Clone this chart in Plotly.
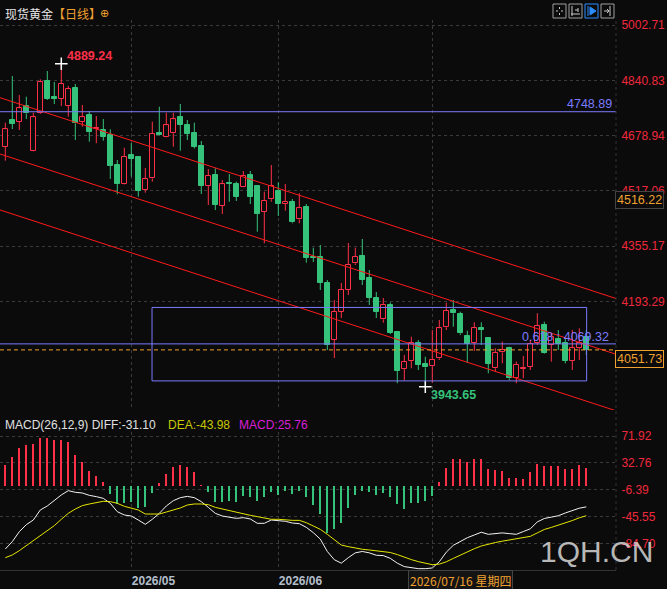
import plotly.graph_objects as go

BG = "#0b0b0b"
UP = "#ff3048"
DOWN = "#35c27a"
GRID = "#3a3a3a"
BLUE = "#7b7bff"
ORANGE = "#f0a030"
TICKRED = "#f0283c"

# ---------------- data ----------------
idx = list(range(84))
opens = [4646.5, 4724.7, 4719.7, 4765.6, 4634.8, 4744.3, 4838.8, 4792.9, 4787.0, 4766.5,
         4818.3, 4719.7, 4739.3, 4697.4, 4695.4, 4680.8, 4592.9, 4538.2, 4622.2, 4616.4,
         4518.9, 4554.0, 4686.6, 4675.8, 4685.7, 4732.6, 4710.0, 4686.6, 4648.6, 4532.4,
         4563.7, 4473.8, 4539.4, 4537.3, 4529.4, 4563.7, 4531.5, 4456.3, 4492.6, 4516.8,
         4479.7, 4485.5, 4434.0, 4470.9, 4324.5, 4324.5, 4247.6, 4080.7, 4162.7, 4227.1,
         4305.2, 4327.5, 4262.2, 4203.7, 4141.3, 4183.2, 4104.1, 3996.7, 4020.1, 4071.1,
         4010.5, 4005.5, 4027.2, 4117.9, 4168.5, 4156.8, 4092.4, 4071.1, 4115.8, 4085.7,
         3997.9, 4044.7, 4056.4, 3968.6, 3996.7, 4002.6, 4072.8, 4124.6, 4066.1, 4083.6,
         4071.1, 4020.1, 4056.4, 4090.4]
highs = [4716.8, 4853.4, 4797.8, 4792.9, 4746.0, 4843.8, 4868.1, 4835.9, 4889.24, 4824.2,
         4830.0, 4768.6, 4751.0, 4736.4, 4727.6, 4697.4, 4607.6, 4643.6, 4657.3, 4618.0,
         4584.2, 4719.7, 4763.6, 4746.0, 4746.0, 4771.5, 4724.7, 4716.8, 4663.2, 4581.2,
         4583.3, 4549.0, 4566.6, 4544.1, 4575.4, 4575.4, 4534.4, 4514.8, 4592.9, 4542.3,
         4537.3, 4493.4, 4510.1, 4478.8, 4350.9, 4358.8, 4256.3, 4197.8, 4247.6, 4364.6,
         4350.9, 4376.3, 4285.6, 4221.2, 4203.7, 4191.1, 4106.0, 4036.8, 4090.4, 4080.7,
         4031.8, 4110.0, 4139.3, 4189.9, 4197.8, 4163.6, 4107.9, 4132.5, 4132.5, 4087.0,
         4056.4, 4075.7, 4061.1, 4017.2, 4033.9, 4080.7, 4158.9, 4134.3, 4101.2, 4110.0,
         4085.7, 4110.0, 4115.0, 4110.0]
lows = [4605.5, 4698.3, 4695.4, 4727.6, 4633.0, 4742.0, 4783.2, 4771.5, 4765.6, 4734.3,
        4666.1, 4705.1, 4661.1, 4656.5, 4664.1, 4552.0, 4507.2, 4536.0, 4558.7, 4500.2,
        4511.9, 4544.1, 4679.0, 4674.0, 4646.5, 4634.8, 4666.1, 4641.2, 4508.1, 4475.9,
        4461.2, 4449.5, 4485.5, 4487.6, 4528.0, 4478.8, 4397.7, 4363.8, 4485.5, 4443.7,
        4459.2, 4422.3, 4422.3, 4307.0, 4309.0, 4227.1, 4051.4, 4028.0, 4145.1, 4212.4,
        4300.2, 4241.7, 4183.2, 4145.1, 4131.4, 4098.3, 3954.0, 3961.6, 3997.9, 3992.9,
        3943.65, 3955.7, 4022.2, 4110.0, 4119.6, 4095.4, 4014.3, 4048.5, 4066.1, 3983.3,
        3987.9, 4012.5, 3963.6, 3954.0, 3968.6, 3992.9, 4066.1, 4040.0, 4017.2, 4051.4,
        4012.5, 3992.9, 4022.2, 4036.8]
closes = [4697.4, 4713.0, 4758.9, 4744.3, 4732.6, 4835.0, 4786.1, 4786.1, 4830.0, 4814.5,
          4715.0, 4732.6, 4690.4, 4702.1, 4675.8, 4590.9, 4537.3, 4616.4, 4611.4, 4517.7,
          4551.1, 4683.7, 4680.8, 4709.1, 4726.7, 4710.0, 4683.7, 4646.5, 4532.4, 4560.7,
          4475.9, 4536.5, 4537.3, 4500.2, 4561.6, 4500.2, 4449.5, 4487.6, 4532.4, 4478.8,
          4484.6, 4425.2, 4466.2, 4321.6, 4321.6, 4247.6, 4066.1, 4162.7, 4227.1, 4300.2,
          4324.5, 4256.3, 4203.7, 4162.7, 4183.2, 4102.1, 3990.9, 4015.5, 4071.1, 4007.5,
          4000.8, 4022.2, 4115.0, 4165.6, 4158.9, 4100.3, 4069.0, 4115.0, 4110.0, 4010.5,
          4043.5, 4051.4, 3968.6, 4007.5, 3999.6, 4069.0, 4121.7, 4041.8, 4089.5, 4069.0,
          4020.1, 4056.4, 4072.8, 4051.73]

macd_hist = [29.8, 41.0, 54.1, 58.9, 60.4, 69.1, 69.1, 66.2, 66.2, 62.8,
             44.4, 33.7, 20.6, 13.8, 4.6, -12.4, -26.9, -25.0, -23.5, -32.3,
             -31.8, -10.4, 4.1, 17.2, 26.9, 30.3, 26.9, 19.6, 0.7, -9.0,
             -23.5, -23.5, -22.1, -23.5, -15.3, -16.2, -22.1, -17.2, -9.5, -13.8,
             -7.5, -12.4, -7.5, -16.2, -28.4, -41.5, -68.6, -63.0, -54.1, -32.3,
             -13.8, -8.0, -9.5, -13.8, -10.4, -16.2, -26.9, -34.2, -25.9, -25.0,
             -22.6, -15.3, 4.6, 25.5, 38.6, 38.6, 33.7, 38.6, 38.6, 23.5,
             22.6, 21.1, 10.4, 10.4, 9.0, 19.6, 31.3, 28.4, 28.4, 28.4,
             24.0, 24.0, 29.8, 25.76]
diff = [-92.4, -81.7, -67.2, -57.0, -50.2, -35.6, -29.8, -22.1, -13.8, -7.5,
        -9.9, -10.9, -14.3, -16.2, -18.7, -25.9, -38.1, -42.9, -44.4, -50.2,
        -56.5, -49.2, -40.5, -29.8, -22.1, -17.7, -15.8, -17.7, -23.5, -31.8,
        -40.5, -44.4, -46.3, -47.8, -46.8, -48.7, -55.0, -55.0, -50.2, -50.7,
        -52.1, -54.6, -55.5, -60.9, -68.6, -78.0, -96.0, -108.0, -113.0, -105.0,
        -98.0, -96.0, -98.0, -101.5, -102.0, -106.0, -113.0, -118.0, -120.0, -121.0,
        -121.0, -120.0, -111.0, -97.0, -87.0, -81.0, -76.0, -72.0, -68.0, -71.0,
        -70.0, -69.0, -70.0, -71.0, -67.0, -63.0, -53.0, -48.0, -46.0, -44.0,
        -40.0, -36.0, -33.0, -31.10]
dea = [-105.0, -101.1, -94.8, -87.5, -80.8, -72.5, -65.7, -58.4, -49.2, -40.5,
       -34.2, -29.3, -26.9, -24.5, -23.0, -23.5, -25.9, -30.3, -32.7, -35.6,
       -41.5, -41.5, -41.5, -38.6, -35.6, -32.7, -28.4, -26.9, -26.9, -27.9,
       -31.8, -34.2, -37.1, -39.0, -41.5, -43.4, -45.3, -47.3, -49.2, -49.2,
       -50.2, -50.7, -50.7, -54.1, -58.9, -63.8, -71.0, -79.0, -86.6, -89.0,
       -91.4, -92.8, -93.8, -94.8, -96.0, -97.5, -100.5, -104.6, -107.8, -110.8,
       -113.5, -115.2, -114.4, -111.0, -106.1, -101.0, -96.0, -92.0, -88.0, -85.0,
       -83.0, -81.0, -79.5, -78.0, -76.5, -74.0, -69.0, -64.0, -61.0, -58.0,
       -55.0, -51.0, -47.0, -43.98]

price_ticks = [5002.71, 4840.83, 4678.94, 4517.06, 4355.17, 4193.29]
macd_ticks = [71.92, 32.76, -6.39, -45.55, -84.70]
month_idx = [18, 39, 61]
month_labels = ["2026/05", "2026/06", ""]

resist_level = 4748.89
fib_level = 4069.32
fib_label = "0.618 : 4069.32"
last_price = closes[-1]
cross_price = 4516.22
cross_date = "2026/07/16 星期四"
cross_idx = 72
high_idx, high_val = 8, 4889.24
low_idx, low_val = 60, 3943.65
box_x = [20.96, 83.05]
box_y = [3961.0, 4176.0]
# parallel channel: price at index -1 and index 88
channel = [(4791.6, 4197.1), (4626.8, 4034.0), (4463.0, 3868.5)]

# ---------------- figure ----------------
W, H = 667, 589
ML, MR, MT, MB = 0, 51, 20, 19
PW, PH = W - ML - MR, H - MT - MB


def px(x):
    return (x - ML) / PW


def py(y):
    return (H - MB - y) / PH


fig = go.Figure()

up = [i for i in idx if closes[i] >= opens[i]]
dn = [i for i in idx if closes[i] < opens[i]]


def wicks(ids):
    xs, ys = [], []
    for i in ids:
        top = max(opens[i], closes[i])
        bot = min(opens[i], closes[i])
        xs += [i, i, None, i, i, None]
        ys += [highs[i], top, None, bot, lows[i], None]
    return xs, ys


for ids, col in ((up, UP), (dn, DOWN)):
    wx, wy = wicks(ids)
    fig.add_trace(go.Scatter(x=wx, y=wy, mode="lines", line=dict(color=col, width=1),
                             hoverinfo="skip", xaxis="x", yaxis="y"))

fig.add_trace(go.Bar(x=up, y=[max(closes[i] - opens[i], 0.5) for i in up],
                     base=[opens[i] for i in up], width=0.68,
                     marker=dict(color=BG, line=dict(color=UP, width=1)),
                     hoverinfo="skip", xaxis="x", yaxis="y"))
fig.add_trace(go.Bar(x=dn, y=[max(opens[i] - closes[i], 0.5) for i in dn],
                     base=[closes[i] for i in dn], width=0.68,
                     marker=dict(color=DOWN, line=dict(color=DOWN, width=1)),
                     hoverinfo="skip", xaxis="x", yaxis="y"))

# high / low markers
fig.add_trace(go.Scatter(x=[high_idx, low_idx], y=[high_val, low_val], mode="markers",
                         marker=dict(symbol="cross-thin", size=9,
                                     line=dict(color="white", width=1.5)),
                         hoverinfo="skip", xaxis="x", yaxis="y"))

# MACD
pos = [i for i in idx if macd_hist[i] >= 0]
neg = [i for i in idx if macd_hist[i] < 0]
fig.add_trace(go.Bar(x=pos, y=[macd_hist[i] for i in pos], width=0.17,
                     marker=dict(color=UP, line=dict(width=0)), hoverinfo="skip",
                     xaxis="x2", yaxis="y2"))
fig.add_trace(go.Bar(x=neg, y=[macd_hist[i] for i in neg], width=0.17,
                     marker=dict(color=DOWN, line=dict(width=0)), hoverinfo="skip",
                     xaxis="x2", yaxis="y2"))
fig.add_trace(go.Scatter(x=idx, y=diff, mode="lines", line=dict(color="#f2f2f2", width=1),
                         hoverinfo="skip", xaxis="x2", yaxis="y2"))
fig.add_trace(go.Scatter(x=idx, y=dea, mode="lines", line=dict(color="#e6e600", width=1),
                         hoverinfo="skip", xaxis="x2", yaxis="y2"))

xr = [-0.757, -0.757 + PW / 7.0]
price_top = 5002.71 + (25 - 20) * 2.927
price_bot = price_top - 390 * 2.927
macd_scale = 1.455
macd_top = (485.5 - 432) * macd_scale
macd_bot = (485.5 - 570) * macd_scale

common_x = dict(range=xr, showgrid=True, gridcolor=GRID, griddash="dot", gridwidth=1,
                zeroline=False, tickvals=month_idx, fixedrange=True)
fig.update_layout(
    width=W, height=H, margin=dict(l=ML, r=MR, t=MT, b=MB),
    paper_bgcolor=BG, plot_bgcolor=BG, showlegend=False, barmode="overlay",
    bargap=0,
    xaxis=dict(domain=[0, 1], anchor="y", showticklabels=False, showline=False, **common_x),
    xaxis2=dict(domain=[0, 1], anchor="y2", ticktext=month_labels,
                ticklabelposition="outside right", ticks="",
                tickfont=dict(family="Arial", size=12, color="#b4bfcc", weight="bold"),
                showline=True, linecolor="#333333", linewidth=1, **common_x),
    yaxis=dict(domain=[py(410), 1], range=[price_bot, price_top], side="right",
               tickvals=price_ticks, ticktext=[f"{v:.2f}" for v in price_ticks],
               tickfont=dict(family="Arial", size=12, color=TICKRED),
               ticks="outside", ticklen=2, tickcolor=BG,
               showgrid=True, gridcolor=GRID, griddash="dot", zeroline=False,
               showline=False, fixedrange=True),
    yaxis2=dict(domain=[0, py(432)], range=[macd_bot, macd_top], side="right",
                tickvals=macd_ticks, ticktext=[f"{v:.2f}" for v in macd_ticks],
                tickfont=dict(family="Arial", size=12, color=TICKRED),
                ticks="outside", ticklen=2, tickcolor=BG,
                showgrid=True, gridcolor=GRID, griddash="dot", zeroline=False,
                showline=False, fixedrange=True),
)

shapes = []
# channel lines
for a, b in channel:
    shapes.append(dict(type="line", xref="x", yref="y", x0=-1, x1=88, y0=a, y1=b,
                       line=dict(color="#ff1a1a", width=1)))
# horizontal levels
shapes.append(dict(type="line", xref="paper", yref="y", x0=0, x1=1, y0=resist_level,
                   y1=resist_level, line=dict(color=BLUE, width=1)))
shapes.append(dict(type="line", xref="paper", yref="y", x0=0, x1=1, y0=fib_level,
                   y1=fib_level, line=dict(color=BLUE, width=1)))
shapes.append(dict(type="line", xref="paper", yref="y", x0=0, x1=1, y0=last_price,
                   y1=last_price, line=dict(color=ORANGE, width=1, dash="4px,3px")))
shapes.append(dict(type="rect", xref="x", yref="y", x0=box_x[0], x1=box_x[1],
                   y0=box_y[0], y1=box_y[1], line=dict(color=BLUE, width=1)))
# right axis divider
shapes.append(dict(type="line", xref="paper", yref="paper", x0=1, x1=1, y0=0, y1=1,
                   line=dict(color="#333333", width=1, dash="dot")))
# toolbar icons
icons = [(553, "#a0a0a0"), (569, "#a0a0a0"), (585, "#2a8cff"), (601, "#a0a0a0")]
for x0, c in icons:
    shapes.append(dict(type="rect", xref="paper", yref="paper", x0=px(x0), x1=px(x0 + 13),
                       y0=py(18), y1=py(4), line=dict(color=c, width=1)))
# icon glyphs
g = "#c8c8c8"
for (a, b, c, d) in [(556, 11, 558, 11), (561, 11, 563, 11), (559.5, 7, 559.5, 9),
                     (559.5, 13, 559.5, 15), (572, 6, 572, 16), (571, 14, 580, 14),
                     (578, 8, 578, 12), (575, 10, 578, 10), (610, 6, 610, 16),
                     (604, 11, 609, 11), (607, 9, 609, 11), (607, 13, 609, 11)]:
    shapes.append(dict(type="line", xref="paper", yref="paper", x0=px(a), x1=px(c),
                       y0=py(b), y1=py(d), line=dict(color=g, width=1)))
shapes.append(dict(type="line", xref="paper", yref="paper", x0=px(588), x1=px(588),
                   y0=py(6), y1=py(16), line=dict(color="#2a8cff", width=1)))
shapes.append(dict(type="path", xref="paper", yref="paper",
                   path=f"M {px(590)},{py(7)} L {px(596)},{py(11)} L {px(590)},{py(15)} Z",
                   fillcolor="#2a8cff", line=dict(color="#2a8cff", width=1)))
fig.update_layout(shapes=shapes)

ann = []
ann.append(dict(xref="paper", yref="paper", x=px(3), y=py(14), xanchor="left",
                yanchor="middle", showarrow=False,
                text="现货黄金<span style='color:#f0a030'>【日线】</span>",
                font=dict(family="Noto Sans CJK SC", size=12, color="#e6e6e6")))
ann.append(dict(xref="paper", yref="paper", x=px(104), y=py(14), xanchor="center",
                yanchor="middle", showarrow=False, text="⊕",
                font=dict(family="DejaVu Sans", size=11, color=ORANGE)))
for x0, t, c in [(3, "MACD(26,12,9) DIFF:-31.10", "#e0e0e0"),
                 (166, "DEA:-43.98", "#c8c800"),
                 (237, "MACD:25.76", "#d81ed8")]:
    ann.append(dict(xref="paper", yref="paper", x=px(x0), y=py(425), xanchor="left",
                    yanchor="middle", showarrow=False, text=t,
                    font=dict(family="Arial", size=12, color=c)))
ann.append(dict(xref="x", yref="y", x=high_idx, y=high_val, xanchor="left",
                yanchor="middle", xshift=4, yshift=8, showarrow=False,
                text=f"{high_val:.2f}", font=dict(family="Arial", size=12.5, color=UP,
                                                  weight="bold")))
ann.append(dict(xref="x", yref="y", x=low_idx, y=low_val, xanchor="left",
                yanchor="middle", xshift=4, yshift=-8, showarrow=False,
                text=f"{low_val:.2f}", font=dict(family="Arial", size=12.5, color=DOWN,
                                                 weight="bold")))
ann.append(dict(xref="paper", yref="y", x=1, y=resist_level, xanchor="right",
                yanchor="middle", xshift=-2, yshift=8, showarrow=False,
                text=f"{resist_level:.2f}", font=dict(family="Arial", size=12.5, color=BLUE)))
ann.append(dict(xref="paper", yref="y", x=1, y=fib_level, xanchor="right",
                yanchor="middle", xshift=-5, yshift=7, showarrow=False,
                text=fib_label, font=dict(family="Arial", size=12.5, color=BLUE)))
ann.append(dict(xref="paper", yref="y", x=1, y=cross_price, xanchor="left",
                yanchor="top", xshift=-1, showarrow=False, text=f"{cross_price:.2f}",
                bgcolor="#0b0b0b", bordercolor="#444444", borderwidth=1, borderpad=1,
                font=dict(family="Arial", size=12.5, color=ORANGE)))
ann.append(dict(xref="paper", yref="y", x=1, y=last_price, xanchor="left",
                yanchor="top", xshift=-1, showarrow=False, text=f"{last_price:.2f}",
                bgcolor="#0b0b0b", bordercolor=ORANGE, borderwidth=1, borderpad=1,
                font=dict(family="Arial", size=12.5, color=ORANGE)))
ann.append(dict(xref="x2", yref="paper", x=cross_idx, y=0, xanchor="right",
                yanchor="top", xshift=4, showarrow=False, text=cross_date,
                bgcolor="#141414", bordercolor="#444444", borderwidth=1, borderpad=1,
                font=dict(family="Noto Sans CJK SC", size=12, color=ORANGE)))
ann.append(dict(xref="paper", yref="paper", x=px(596), y=py(551), xanchor="center",
                yanchor="middle", showarrow=False, text="1QH.CN",
                font=dict(family="Arial", size=30, color="rgba(215,215,215,0.85)")))
fig.update_layout(annotations=ann)

fig.write_html("out.html")
